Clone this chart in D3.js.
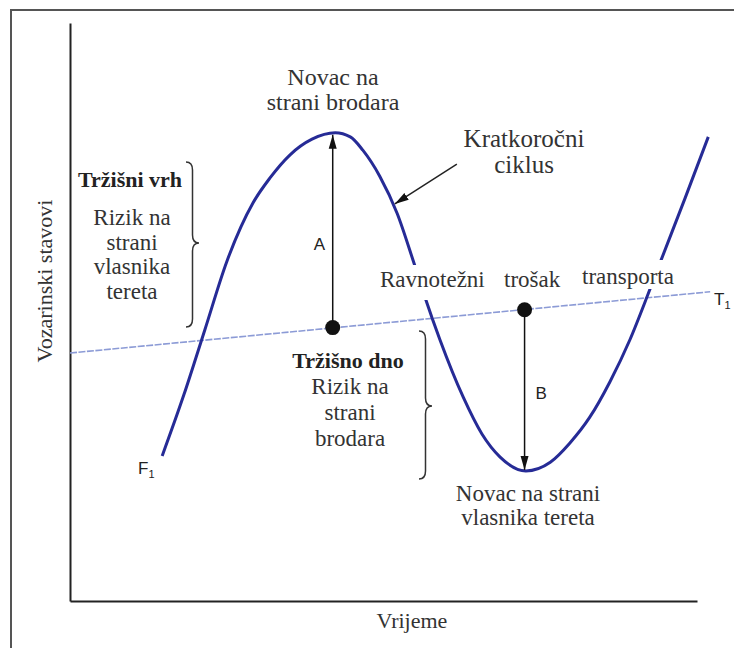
<!DOCTYPE html>
<html>
<head>
<meta charset="utf-8">
<script src="https://cdn.jsdelivr.net/npm/d3@7"></script>
<style>
  body { margin: 0; background: #fff; }
  svg { display: block; }
</style>
</head>
<body>
<div id="chart"></div>
<script>
// short-term freight cycle
const cycleTime = [14.7, 18.2, 21.5, 25.0, 29.2, 31.9, 35.1, 38.6, 42.3, 44.7, 46.7, 49.4, 52.2, 54.7, 56.6, 59.0,
                   62.7, 65.7, 68.6, 72.7, 76.6, 79.7, 82.9, 86.1, 89.3, 92.2, 94.1, 98.1, 101.8];
const cycleRate = [25.1, 35.8, 46.9, 58.7, 68.9, 73.2, 77.2, 79.9, 81.0, 80.3, 78.0, 73.5, 67.0, 59.0, 52.6, 45.2,
                   35.3, 28.9, 24.9, 22.5, 24.0, 27.3, 31.8, 37.9, 45.2, 53.1, 58.5, 69.7, 80.3];

// equilibrium transport cost line (T1)
const costTime = [0, 102.1];
const costRate = [42.9, 53.5];

// market points on the cost line: top (A) and bottom (B)
const markTime = [41.9, 72.5];
const markRate = [47.3, 50.4];
const markTarget = [81.0, 22.5];
const markLabels = ["A", "B"];

// pointer to the curve
const pointerTime = [61.7, 51.8];
const pointerRate = [75.6, 68.7];

const W = 734, H = 652;
const margin = { top: 23, right: 37, bottom: 51, left: 70 };

const svg = d3.select("#chart").append("svg")
    .attr("width", W)
    .attr("height", H);

const x = d3.scaleLinear().domain([0, 100]).range([margin.left, W - margin.right]);
const y = d3.scaleLinear().domain([0, 100]).range([H - margin.bottom, margin.top]);

const serif = "'Liberation Serif', 'Times New Roman', serif";
const sans = "'Liberation Sans', Arial, sans-serif";

// arrow heads
const defs = svg.append("defs");
defs.append("marker")
    .attr("id", "head")
    .attr("viewBox", "0 0 14 10")
    .attr("refX", 14).attr("refY", 5)
    .attr("markerWidth", 14).attr("markerHeight", 10)
    .attr("markerUnits", "userSpaceOnUse")
    .attr("orient", "auto")
    .append("path")
    .attr("d", "M0,1 L14,5 L0,9 Z")
    .attr("fill", "#111");

// page frame from the scan
svg.append("path")
    .attr("d", "M10,10 H734 M11,10 V648")
    .attr("stroke", "#555")
    .attr("stroke-width", 2)
    .attr("fill", "none");

// axes without ticks
svg.append("g")
    .attr("transform", "translate(" + margin.left + ",0)")
    .call(d3.axisLeft(y).ticks(0).tickSizeOuter(0));
svg.append("g")
    .attr("transform", "translate(0," + (H - margin.bottom) + ")")
    .call(d3.axisBottom(x).ticks(0).tickSizeOuter(0));
svg.selectAll(".domain").attr("stroke", "#222").attr("stroke-width", 2);

// cost line
const costData = costTime.map((t, i) => ({ t: t, r: costRate[i] }));
svg.append("path")
    .datum(costData)
    .attr("d", d3.line().x(d => x(d.t)).y(d => y(d.r)))
    .attr("stroke", "#8c9bd6")
    .attr("stroke-width", 1.6)
    .attr("stroke-dasharray", "7,1.5")
    .attr("fill", "none");

// cycle curve
const cycleData = cycleTime.map((t, i) => ({ t: t, r: cycleRate[i] }));
svg.append("path")
    .datum(cycleData)
    .attr("d", d3.line().x(d => x(d.t)).y(d => y(d.r)).curve(d3.curveMonotoneX))
    .attr("stroke", "#262b96")
    .attr("stroke-width", 3)
    .attr("fill", "none");

// vertical arrows A and B
const marks = markTime.map((t, i) => ({ t: t, r: markRate[i], to: markTarget[i], label: markLabels[i] }));
svg.selectAll(".vArrow")
    .data(marks)
    .enter().append("line")
    .attr("class", "vArrow")
    .attr("x1", d => x(d.t)).attr("y1", d => y(d.r))
    .attr("x2", d => x(d.t)).attr("y2", d => y(d.to) + (d.to > d.r ? 2 : -1))
    .attr("stroke", "#111")
    .attr("stroke-width", 1.5)
    .attr("marker-end", "url(#head)");

svg.selectAll(".dot")
    .data(marks)
    .enter().append("circle")
    .attr("class", "dot")
    .attr("cx", d => x(d.t)).attr("cy", d => y(d.r))
    .attr("r", 7.5)
    .attr("fill", "#111");

svg.selectAll(".markLabel")
    .data(marks)
    .enter().append("text")
    .attr("class", "markLabel")
    .attr("x", (d, i) => x(d.t) + (i === 0 ? -19 : 11))
    .attr("y", (d, i) => i === 0 ? 250 : 399)
    .attr("font-family", sans)
    .attr("font-size", 17)
    .attr("fill", "#222")
    .text(d => d.label);

// pointer arrow to "Kratkoročni ciklus"
svg.append("line")
    .attr("x1", x(pointerTime[0])).attr("y1", y(pointerRate[0]))
    .attr("x2", x(pointerTime[1])).attr("y2", y(pointerRate[1]))
    .attr("stroke", "#222")
    .attr("stroke-width", 1.5)
    .attr("marker-end", "url(#head)");

// text helper
function label(lines, cx, y0, step, opts) {
    const o = Object.assign({ size: 23, weight: "normal", anchor: "middle", fill: "#333", font: serif, bg: null }, opts || {});
    lines.forEach((s, i) => {
        const t = svg.append("text")
            .attr("x", cx)
            .attr("y", y0 + i * step)
            .attr("text-anchor", o.anchor)
            .attr("font-family", o.font)
            .attr("font-size", o.size)
            .attr("font-weight", o.weight)
            .attr("fill", o.fill)
            .text(s);
        if (o.bg) {
            const b = t.node().getBBox();
            svg.insert("rect", function () { return t.node(); })
                .attr("x", b.x - 3).attr("y", b.y - o.bg[0])
                .attr("width", b.width + 6).attr("height", b.height + o.bg[0] + o.bg[1])
                .attr("fill", "#fff");
        }
    });
}

label(["Novac na", "strani brodara"], 333, 85, 25, { size: 24 });
label(["Kratkoročni", "ciklus"], 524, 147, 26, { size: 25 });

label(["Tržišni vrh"], 130, 187, 0, { size: 22, weight: "bold", fill: "#222" });
label(["Rizik na", "strani", "vlasnika", "tereta"], 132, 225, 24.5);

label(["Tržišno dno"], 348, 368, 0, { size: 22, weight: "bold", fill: "#222" });
label(["Rizik na", "strani", "brodara"], 350, 394, 26);

label(["Ravnotežni"], 380, 287, 0, { anchor: "start", bg: [2, 8] });
label(["trošak"], 504, 287, 0, { anchor: "start" });
label(["transporta"], 582, 284, 0, { anchor: "start", bg: [4, 0] });

label(["Novac na strani", "vlasnika tereta"], 528, 501, 24);

label(["Vrijeme"], 412, 628, 0, { size: 22 });

svg.append("text")
    .attr("transform", "translate(52,281) rotate(-90)")
    .attr("text-anchor", "middle")
    .attr("font-family", serif)
    .attr("font-size", 22)
    .attr("fill", "#333")
    .text("Vozarinski stavovi");

// braces
function brace(x0, y0, y1, ym, w) {
    const xm = x0 + w / 2, r = 8;
    return "M" + x0 + "," + y0 +
        " Q" + xm + "," + y0 + " " + xm + "," + (y0 + r) +
        " L" + xm + "," + (ym - r) +
        " Q" + xm + "," + ym + " " + (x0 + w) + "," + ym +
        " Q" + xm + "," + ym + " " + xm + "," + (ym + r) +
        " L" + xm + "," + (y1 - r) +
        " Q" + xm + "," + y1 + " " + x0 + "," + y1;
}
svg.append("path").attr("d", brace(186, 162, 327, 243, 13))
    .attr("stroke", "#333").attr("stroke-width", 1.5).attr("fill", "none");
svg.append("path").attr("d", brace(419, 331, 479, 406, 13))
    .attr("stroke", "#333").attr("stroke-width", 1.5).attr("fill", "none");

// curve / line end labels
const f1 = svg.append("text")
    .attr("x", 138).attr("y", 474)
    .attr("font-family", sans).attr("font-size", 17).attr("fill", "#222");
f1.append("tspan").text("F");
f1.append("tspan").attr("font-size", 11).attr("dy", 4).text("1");

const t1 = svg.append("text")
    .attr("x", 714).attr("y", 305)
    .attr("font-family", sans).attr("font-size", 17).attr("fill", "#222");
t1.append("tspan").text("T");
t1.append("tspan").attr("font-size", 11).attr("dy", 4).text("1");
</script>
</body>
</html>
